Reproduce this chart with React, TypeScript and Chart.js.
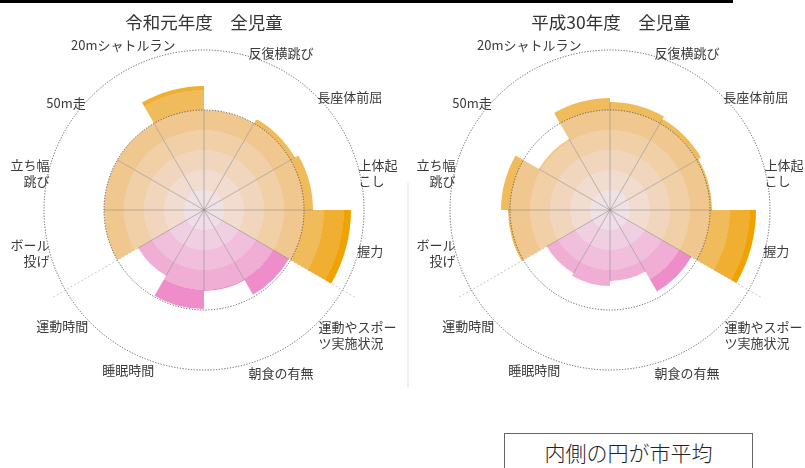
import React, { useEffect, useRef } from 'react';
import { Chart, registerables } from 'chart.js';

Chart.register(...registerables);

// ---- data ----
const categories = [
  '反復横跳び', '長座体前屈', '上体起こし', '握力',
  '運動やスポーツ実施状況', '朝食の有無', '睡眠時間', '運動時間',
  'ボール投げ', '立ち幅跳び', '50m走', '20mシャトルラン',
];
const categoryGroups = [
  '体力', '体力', '体力', '体力',
  '生活', '生活', '生活', '生活',
  '体力', '体力', '体力', '体力',
];
const reiwaValues = [50, 52.5, 54.5, 73.5, 49, 40.5, 49.5, 38, 50, 50, 50, 62];
const heiseiValues = [54, 52.5, 51, 73, 47, 35.5, 38, 36.5, 51, 54.5, 41, 56];

// the category axis of the original has 14 slots (two are blank)
const axisLabels: (string | string[])[] = [
  '', '反復横跳び', '長座体前屈', ['上体起', 'こし'], '握力',
  ['運動やスポー', 'ツ実施状況'], '朝食の有無', '', '睡眠時間', '運動時間',
  ['ボール', '投げ'], ['立ち幅', '跳び'], '50m走', '20mシャトルラン',
];

const cityAverage = 50;
const bandStep = 10;
const outerRing = 80;
const scaleMax = 85;
const groupLineEnd = 87.5;
const chartTitles = ['令和元年度　全児童', '平成30年度　全児童'];
const noteText = '内側の円が市平均';

// ---- styles ----
const fitnessBands = ['#f0e1e4', '#f1dccf', '#f1d6bd', '#f1cfa7', '#f0c88f', '#f0bb5b', '#f0af30', '#f0a300'];
const lifeBands = ['#f1dde7', '#f1cfe2', '#f1bfdb', '#f0aed5', '#ee8dca', '#ec78c0', '#ea62b6', '#e84cac'];
const FONT = '"Noto Sans CJK JP", "Noto Sans", sans-serif';

function bandGradient(chart: any, palette: string[]) {
  const s = chart.scales && chart.scales.r;
  if (!s || !isFinite(s.xCenter) || !(s.drawingArea > 0)) return palette[4];
  const rOuter = s.getDistanceFromCenterForValue(outerRing);
  const g = chart.ctx.createRadialGradient(s.xCenter, s.yCenter, 0, s.xCenter, s.yCenter, rOuter);
  const n = palette.length;
  palette.forEach((c, k) => {
    g.addColorStop(k / n, c);
    g.addColorStop((k + 1) / n, c);
  });
  return g;
}

const decorPlugin = {
  id: 'decor',
  beforeDatasetsDraw(chart: any) {
    const s = chart.scales.r;
    const ctx = chart.ctx;
    const n = chart.data.datasets[0].data.length;
    ctx.save();
    ctx.strokeStyle = '#c4c4c4';
    ctx.lineWidth = 1;
    ctx.setLineDash([2, 2]);
    const r = s.getDistanceFromCenterForValue(groupLineEnd);
    for (let i = 0; i < n; i++) {
      const prev = (i + n - 1) % n;
      if (categoryGroups[i] === categoryGroups[prev]) continue;
      const a = s.getIndexAngle(i) - Math.PI / 2;
      ctx.beginPath();
      ctx.moveTo(s.xCenter, s.yCenter);
      ctx.lineTo(s.xCenter + r * Math.cos(a), s.yCenter + r * Math.sin(a));
      ctx.stroke();
    }
    ctx.restore();
  },
  afterDatasetsDraw(chart: any) {
    const s = chart.scales.r;
    const ctx = chart.ctx;
    const data = chart.data.datasets[0].data as number[];
    const n = data.length;
    ctx.save();
    // spokes
    ctx.strokeStyle = 'rgba(135,135,135,0.55)';
    ctx.lineWidth = 1;
    for (let i = 0; i < n; i++) {
      const prev = (i + n - 1) % n;
      const len = s.getDistanceFromCenterForValue(Math.min(data[i], data[prev]));
      const a = s.getIndexAngle(i) - Math.PI / 2;
      ctx.beginPath();
      ctx.moveTo(s.xCenter, s.yCenter);
      ctx.lineTo(s.xCenter + len * Math.cos(a), s.yCenter + len * Math.sin(a));
      ctx.stroke();
    }
    // dotted circles: city average and outer ring
    ctx.strokeStyle = '#5a5a5a';
    ctx.setLineDash([1.2, 1.6]);
    [cityAverage, outerRing].forEach((v) => {
      ctx.beginPath();
      ctx.arc(s.xCenter, s.yCenter, s.getDistanceFromCenterForValue(v), 0, Math.PI * 2);
      ctx.stroke();
    });
    ctx.restore();
  },
  afterDraw(chart: any) {
    const s = chart.scales.r;
    const ctx = chart.ctx;
    ctx.save();
    ctx.font = `13px ${FONT}`;
    ctx.fillStyle = '#3a3a3a';
    ctx.textBaseline = 'middle';
    const lineH = 16;
    const base = s.getDistanceFromCenterForValue(78);
    const labelCy = s.yCenter + 3;
    const start = (s.options.startAngle || 0) * Math.PI / 180;
    axisLabels.forEach((lab, j) => {
      const lines = Array.isArray(lab) ? lab : [lab];
      if (!lines.join('')) return;
      const a = start + (j * Math.PI * 2) / axisLabels.length;
      const sin = Math.sin(a);
      const cos = Math.cos(a);
      const w = Math.max(...lines.map((l) => ctx.measureText(l).width));
      const h = lines.length * lineH;
      const R = base + Math.abs(sin) * w / 2 + Math.abs(cos) * h / 2;
      const cx = s.xCenter + R * sin;
      const cy = labelCy - R * cos;
      let x = cx;
      if (sin > 0.05) { ctx.textAlign = 'left'; x = cx - w / 2; }
      else if (sin < -0.05) { ctx.textAlign = 'right'; x = cx + w / 2; }
      else { ctx.textAlign = 'center'; }
      lines.forEach((l, k) => {
        ctx.fillText(l, x, cy - h / 2 + lineH * (k + 0.5));
      });
    });
    ctx.restore();
  },
};

function makeChart(canvas: HTMLCanvasElement, values: number[], padding: any) {
  return new Chart(canvas, {
    type: 'polarArea',
    data: {
      labels: categories,
      datasets: [{
        data: values,
        backgroundColor: (ctx: any) =>
          bandGradient(ctx.chart, categoryGroups[ctx.dataIndex] === '生活' ? lifeBands : fitnessBands),
        borderWidth: 0,
      }],
    },
    options: {
      animation: false,
      responsive: false,
      events: [],
      layout: { padding },
      plugins: { legend: { display: false }, tooltip: { enabled: false }, title: { display: false } },
      scales: {
        r: {
          min: 0,
          max: scaleMax,
          startAngle: 0,
          ticks: { display: false, stepSize: bandStep },
          grid: { display: false },
          angleLines: { display: false },
          pointLabels: { display: false },
        },
      },
    } as any,
    plugins: [decorPlugin as any],
  });
}

export default function App() {
  const leftRef = useRef<HTMLCanvasElement>(null);
  const rightRef = useRef<HTMLCanvasElement>(null);

  useEffect(() => {
    const charts = [
      makeChart(leftRef.current!, reiwaValues, { left: 34, right: 31, top: 40, bottom: 88 }),
      makeChart(rightRef.current!, heiseiValues, { left: 35, right: 25, top: 40, bottom: 88 }),
    ];
    return () => charts.forEach((c) => c.destroy());
  }, []);

  const titleStyle: React.CSSProperties = {
    position: 'absolute', top: 12, height: 20, lineHeight: '20px',
    fontFamily: FONT, fontSize: 17.5, color: '#333', textAlign: 'center', whiteSpace: 'nowrap',
  };

  return (
    <div style={{ position: 'absolute', left: 0, top: 0, width: 805, height: 468, background: '#fff', overflow: 'hidden' }}>
      <div style={{ position: 'absolute', left: 0, top: 0, width: 733, height: 3, background: '#000' }} />
      <canvas ref={leftRef} width={405} height={468}
        style={{ position: 'absolute', left: 0, top: 0, width: 405, height: 468 }} />
      <canvas ref={rightRef} width={400} height={468}
        style={{ position: 'absolute', left: 405, top: 0, width: 400, height: 468 }} />
      <div style={{ ...titleStyle, left: 0, width: 408 }}>{chartTitles[0]}</div>
      <div style={{ ...titleStyle, left: 412, width: 398 }}>{chartTitles[1]}</div>
      <div style={{ position: 'absolute', left: 407, top: 183, width: 2, height: 204, background: '#efefef' }} />
      <div style={{
        position: 'absolute', left: 504, top: 433, width: 247, height: 60,
        border: '1px solid #666', background: '#fff',
        fontFamily: FONT, fontSize: 21, fontWeight: 300, color: '#222',
        textAlign: 'center', lineHeight: '36px',
      }}>{noteText}</div>
    </div>
  );
}
